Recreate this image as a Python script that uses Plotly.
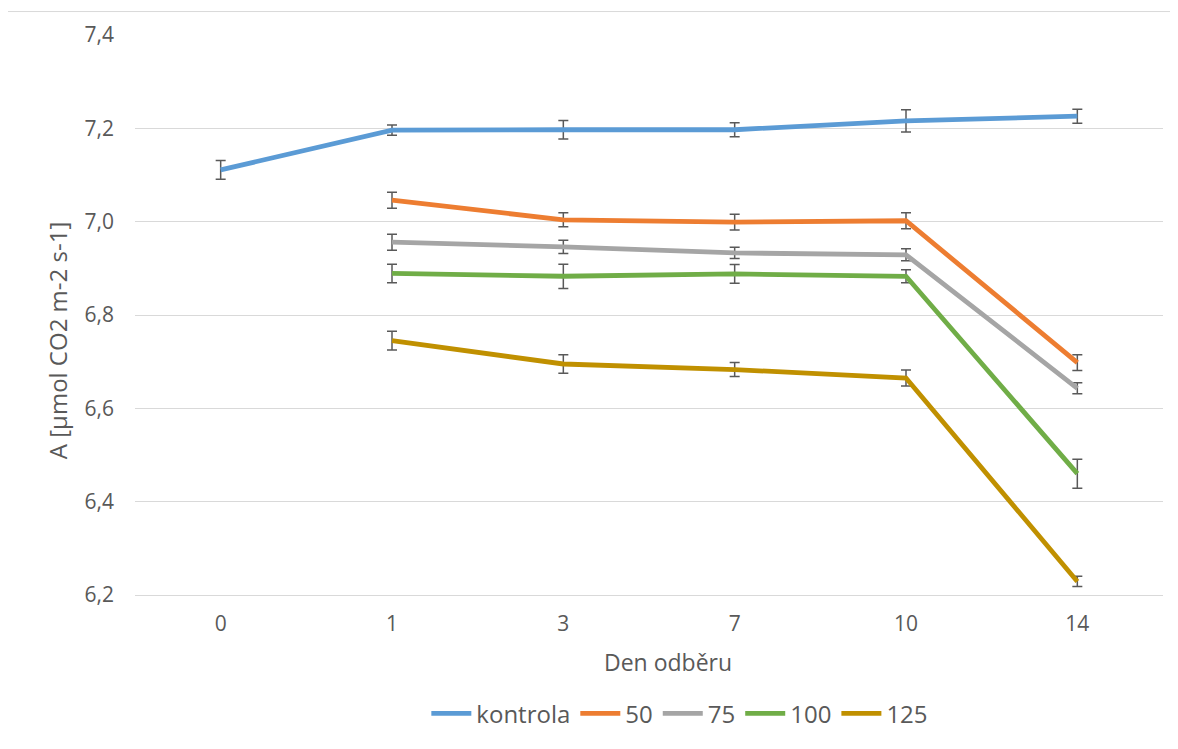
import plotly.graph_objects as go

days = ["0", "1", "3", "7", "10", "14"]
series_names = ["kontrola", "50", "75", "100", "125"]

kontrola = [7.111, 7.196, 7.197, 7.197, 7.216, 7.226]
kontrola_err = [0.020, 0.011, 0.020, 0.015, 0.024, 0.015]

s50 = [None, 7.046, 7.004, 6.999, 7.002, 6.698]
s50_err = [0, 0.017, 0.015, 0.017, 0.017, 0.017]

s75 = [None, 6.956, 6.946, 6.933, 6.929, 6.643]
s75_err = [0, 0.017, 0.014, 0.012, 0.013, 0.012]

s100 = [None, 6.889, 6.883, 6.888, 6.883, 6.460]
s100_err = [0, 0.020, 0.026, 0.020, 0.014, 0.031]

s125 = [None, 6.745, 6.695, 6.683, 6.665, 6.229]
s125_err = [0, 0.020, 0.020, 0.015, 0.017, 0.011]

colors = ["#5B9BD5", "#ED7D31", "#A5A5A5", "#70AD47", "#C09000"]
values = [kontrola, s50, s75, s100, s125]
errors = [kontrola_err, s50_err, s75_err, s100_err, s125_err]

y_ticks = [6.2, 6.4, 6.6, 6.8, 7.0, 7.2, 7.4]
y_tick_text = [f"{v:.1f}".replace(".", ",") for v in y_ticks]

x_title = "Den odběru"
y_title = "A [µmol CO2 m-2 s-1]"

FONT = "Open Sans, Lato, sans-serif"
TXT = "#595959"

fig = go.Figure()
for name, vals, errs, col in zip(series_names, values, errors, colors):
    fig.add_trace(go.Scatter(
        x=days, y=vals, name=name, mode="lines",
        line=dict(color=col, width=4.8),
        error_y=dict(type="data", array=errs, visible=True,
                     color="#595959", thickness=1.5, width=5),
    ))

# page body has an 8px margin, so the figure is shifted by 8px
fig.update_layout(
    width=1170, height=741,
    paper_bgcolor="white", plot_bgcolor="white",
    margin=dict(l=127, r=15, t=26.5, b=154),
    font=dict(family=FONT, color=TXT, size=18),
    showlegend=True,
    legend=dict(orientation="h", x=0.53, xanchor="center", y=-0.212,
                yanchor="middle", font=dict(size=24, color=TXT),
                itemwidth=40, tracegroupgap=0),
    shapes=[dict(type="rect", xref="paper", yref="paper",
                 x0=-0.1245, x1=1.05, y0=-0.4, y1=1.0419,
                 line=dict(color="#d9d9d9", width=1), layer="below")],
    annotations=[
        dict(text=x_title, xref="paper", yref="paper", x=0.5185, y=-0.1195,
             xanchor="center", yanchor="middle", showarrow=False,
             font=dict(size=23, color=TXT)),
        dict(text=y_title, xref="paper", yref="paper", x=-0.0759, y=0.455,
             xanchor="center", yanchor="middle", showarrow=False, textangle=-90,
             font=dict(size=24, color=TXT)),
    ],
)
fig.update_xaxes(
    type="category", range=[-0.5, 5.5],
    showgrid=False, showline=True, linecolor="#d9d9d9", linewidth=1,
    ticks="", tickfont=dict(size=21, color=TXT), ticklabelstandoff=10,
    zeroline=False,
)
fig.update_yaxes(
    range=[6.2, 7.4], tickvals=y_ticks, ticktext=y_tick_text,
    showgrid=True, gridcolor="#d9d9d9", gridwidth=1,
    showline=False, zeroline=False, ticks="",
    tickfont=dict(size=21, color=TXT), ticklabelstandoff=20,
)

fig.write_html("out.html")
